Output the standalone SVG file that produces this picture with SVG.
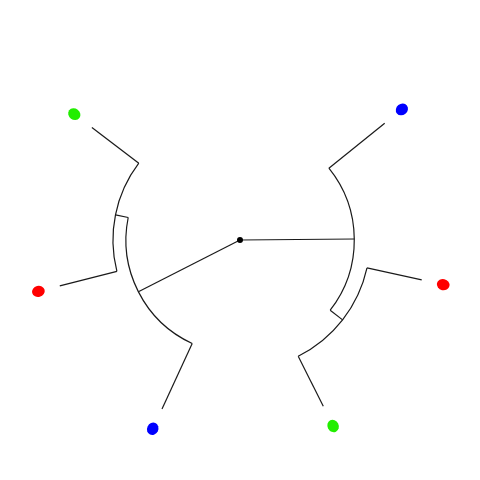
<svg xmlns="http://www.w3.org/2000/svg" width="480" height="480" viewBox="0 0 480 480">
<style>
.e{fill:none;stroke:#1a1a1a;stroke-width:1.2}
.r{fill:#ff0000}.g{fill:#22ee00}.b{fill:#0000ff}
</style>
<rect width="480" height="480" fill="#ffffff"/>
<g id="connectors">
<line class="e" x1="240" y1="240" x2="354.3" y2="239.0"/>
<line class="e" x1="240" y1="240" x2="138.4" y2="291.8"/>
<path class="e" d="M328.9 168.2 A114.3 114.3 0 0 1 330.2 310.2"/>
<line class="e" x1="328.9" y1="168.2" x2="384.7" y2="123.2"/>
<line class="e" x1="330.2" y1="310.2" x2="342.6" y2="319.9"/>
<path class="e" d="M367.0 267.9 A130 130 0 0 1 298.2 356.2"/>
<line class="e" x1="367.0" y1="267.9" x2="421.7" y2="279.9"/>
<line class="e" x1="298.2" y1="356.2" x2="323.3" y2="406.3"/>
<path class="e" d="M192.2 343.5 A114 114 0 0 1 128.2 217.5"/>
<line class="e" x1="192.2" y1="343.5" x2="162.0" y2="408.9"/>
<line class="e" x1="128.2" y1="217.5" x2="115.5" y2="214.9"/>
<path class="e" d="M116.9 271.4 A127 127 0 0 1 138.8 163.2"/>
<line class="e" x1="116.9" y1="271.4" x2="59.8" y2="285.9"/>
<line class="e" x1="138.8" y1="163.2" x2="91.9" y2="127.5"/>
</g>
<g id="root"><circle cx="240" cy="240" r="3" fill="#000"/></g>
<g id="leaf-blue-tr"><ellipse class="b" cx="0" cy="0" rx="6.4" ry="5.6" transform="translate(401.9 109.4) rotate(-38.9)"/></g>
<g id="leaf-red-r"><ellipse class="r" cx="0" cy="0" rx="6.4" ry="5.6" transform="translate(443.2 284.7) rotate(12.4)"/></g>
<g id="leaf-green-br"><ellipse class="g" cx="0" cy="0" rx="6.4" ry="5.6" transform="translate(333.1 426.0) rotate(63.4)"/></g>
<g id="leaf-blue-bl"><ellipse class="b" cx="0" cy="0" rx="6.4" ry="5.6" transform="translate(152.7 428.8) rotate(114.8)"/></g>
<g id="leaf-red-l"><ellipse class="r" cx="0" cy="0" rx="6.4" ry="5.6" transform="translate(38.4 291.4) rotate(165.7)"/></g>
<g id="leaf-green-tl"><ellipse class="g" cx="0" cy="0" rx="6.4" ry="5.6" transform="translate(74.3 114.2) rotate(217.2)"/></g>
</svg>
